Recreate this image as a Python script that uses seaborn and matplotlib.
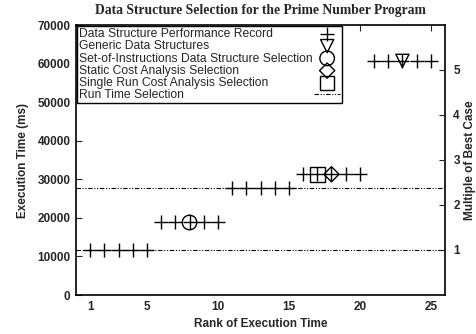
import matplotlib
matplotlib.use("Agg")
import matplotlib.pyplot as plt
import seaborn as sns
import numpy as np
import pandas as pd

ranks = list(range(1, 26))
times = [11700]*5 + [18800]*5 + [27700]*5 + [31300]*5 + [60700]*5
generic_rank = [23]
generic_time = [60700]
soi_rank = [8]
soi_time = [18800]
static_rank = [18]
static_time = [31300]
single_rank = [17]
single_time = [31300]
runtime_sel = [11700, 27700]
best_case = 11667

sns.set_style("white")
plt.rcParams['font.family'] = ['Liberation Sans', 'DejaVu Sans']

fig = plt.figure(figsize=(4.76, 3.34), dpi=100)
ax = fig.add_axes([76/476, 1-295/334, (445-76)/476, (295-25)/334])

df = pd.DataFrame({"rank": ranks, "time": times})
sns.scatterplot(data=df, x="rank", y="time", marker="+", s=110, color="black",
                linewidth=1.0, ax=ax, label="Data Structure Performance Record", zorder=3)
sns.scatterplot(x=generic_rank, y=generic_time, marker="v", s=90, facecolor="none",
                edgecolor="black", linewidth=1.0, ax=ax, label="Generic Data Structures", zorder=4)
sns.scatterplot(x=soi_rank, y=soi_time, marker="o", s=110, facecolor="none",
                edgecolor="black", linewidth=1.0, ax=ax,
                label="Set-of-Instructions Data Structure Selection", zorder=4)
sns.scatterplot(x=static_rank, y=static_time, marker="D", s=60, facecolor="none",
                edgecolor="black", linewidth=1.0, ax=ax, label="Static Cost Analysis Selection", zorder=4)
sns.scatterplot(x=single_rank, y=single_time, marker="s", s=110, facecolor="none",
                edgecolor="black", linewidth=1.0, ax=ax, label="Single Run Cost Analysis Selection", zorder=4)
for i, v in enumerate(runtime_sel):
    ax.axhline(v, color="black", linewidth=0.8, linestyle=(0, (4, 1.5, 1, 1.5, 1, 1.5)),
               label="Run Time Selection" if i == 0 else None, zorder=2)

ax.set_xlim(0, 26)
ax.set_ylim(0, 70000)
ax.set_xticks([1, 5, 10, 15, 20, 25])
ax.set_yticks(range(0, 70001, 10000))
ax.tick_params(axis="both", direction="in", length=4, width=0.8, labelsize=8.5,
               top=True, right=False, pad=4)
for lab in ax.get_xticklabels() + ax.get_yticklabels():
    lab.set_fontweight("bold")
for s in ax.spines.values():
    s.set_color("black")
    s.set_linewidth(1.2)

ax.set_xlabel("Rank of Execution Time", fontsize=8.5, fontweight="bold", labelpad=4)
ax.set_ylabel("Execution Time (ms)", fontsize=8.5, fontweight="bold", labelpad=6)
ax.set_title("Data Structure Selection for the Prime Number Program",
             fontsize=9.8, fontweight="bold", family=["Liberation Serif"], pad=8)

ax2 = ax.twinx()
ax2.set_ylim(0, 70000 / best_case)
ax2.set_yticks([1, 2, 3, 4, 5])
ax2.tick_params(axis="y", direction="in", length=4, width=0.8, labelsize=8.5, pad=6)
for lab in ax2.get_yticklabels():
    lab.set_fontweight("bold")
ax2.set_ylabel("Multiple of Best Case", fontsize=8.5, fontweight="bold", labelpad=3)
for s in ax2.spines.values():
    s.set_visible(False)

leg = ax.legend(loc="upper left", markerfirst=False, frameon=True, fancybox=False,
                edgecolor="black", borderpad=0.15, labelspacing=0.02,
                handlelength=2.2, handletextpad=0.1, borderaxespad=0.1,
                prop={"size": 8.7})
leg.get_frame().set_linewidth(1.0)
leg.get_frame().set_alpha(1)
leg.set_zorder(10)

# left-align legend texts with handles kept in a right column
fig.canvas.draw()
renderer = fig.canvas.get_renderer()
columns = leg._legend_handle_box.get_children()
for col in columns:
    items = col.get_children()
    maxw = max(it.get_bbox(renderer).width for it in items)
    for it in items:
        it.mode = "expand"
        it.width = maxw

fig.savefig("out.png", dpi=100)
